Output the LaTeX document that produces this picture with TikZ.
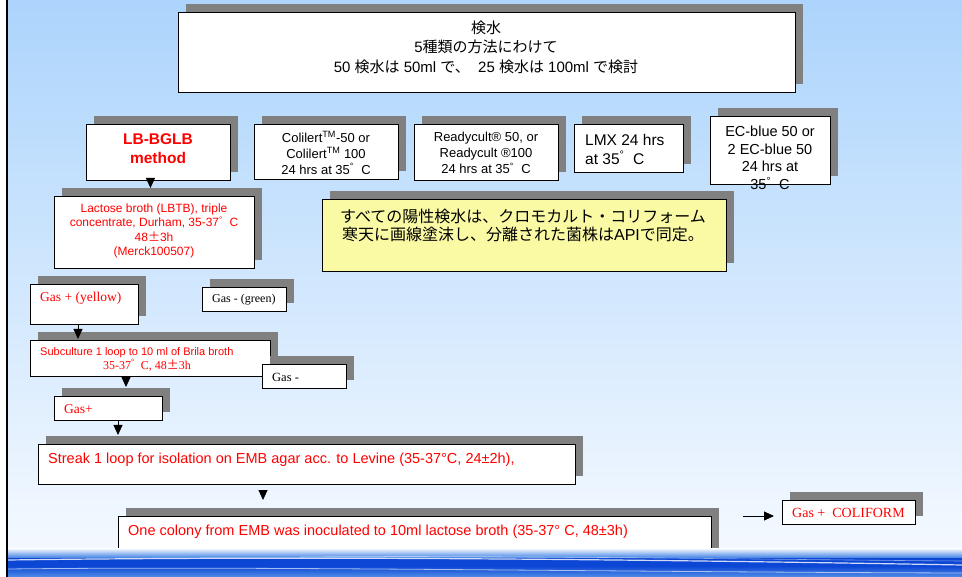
\documentclass[tikz,border=0pt]{standalone}
\usepackage{fontspec}
\setmainfont{Liberation Sans}
\newfontfamily\jp{Noto Sans CJK JP}
\newfontfamily\tnr{Liberation Serif}
\usetikzlibrary{arrows.meta,shadows,calc}

\definecolor{skytop}{RGB}{172,212,252}
\definecolor{skybot}{RGB}{244,249,255}
\definecolor{shadowgray}{RGB}{128,128,128}
\definecolor{notefill}{RGB}{250,250,165}
\definecolor{wavedark}{RGB}{12,70,212}
\definecolor{wavemid}{RGB}{80,140,232}

\newcommand{\ja}[1]{{\jp #1}}
\newcommand{\degc}{\textsuperscript{°}\ \ C}

\tikzset{
  frame/.style={draw=black, fill=white, line width=0.9pt, inner sep=0pt, anchor=north west,
    drop shadow={shadow xshift=8pt, shadow yshift=8pt, fill=shadowgray, opacity=1}},
  txt/.style={inner sep=0pt, align=center},
  flow/.style={line width=0.8pt, -{Triangle[length=10pt,width=9pt]}},
}

\begin{document}
\begin{tikzpicture}[x=1pt, y=-1pt]
    \useasboundingbox (0,0) rectangle (962,577);
    % sky behind the chart
    \fill[white] (0,0) rectangle (962,577);
    \shade[top color=skytop, bottom color=skybot] (8,0) rectangle (962,549);

    % boxes
    \node[frame, minimum width=617pt, minimum height=80pt] (top) at (178,12) {};
    \node[frame, minimum width=144pt, minimum height=56pt] (lbbglb) at (86,124) {};
    \node[frame, minimum width=144pt, minimum height=55pt] (colilert) at (254,124) {};
    \node[frame, minimum width=144pt, minimum height=56pt] (readycult) at (414,124) {};
    \node[frame, minimum width=109pt, minimum height=48pt] (lmx) at (574,124) {};
    \node[frame, minimum width=120pt, minimum height=68pt] (ecblue) at (710,116) {};
    \node[frame, fill=notefill, minimum width=404pt, minimum height=72pt] (chromo) at (322,199) {};
    \node[frame, minimum width=200pt, minimum height=72pt] (lactose) at (54,196) {};
    \node[frame, minimum width=108pt, minimum height=40pt] (gasyellow) at (30,284) {};
    \node[frame, minimum width=84pt, minimum height=24pt] (gasgreen) at (202,287) {};
    \node[frame, minimum width=240pt, minimum height=36pt] (subcult) at (30,340) {};
    \node[frame, minimum width=84pt, minimum height=24pt] (gasneg) at (262,364) {};
    \node[frame, minimum width=108pt, minimum height=24pt] (gaspos) at (54,396) {};
    \node[frame, minimum width=537pt, minimum height=40pt] (streak) at (38,444) {};
    \node[frame, minimum width=593pt, minimum height=50pt] (colony) at (118,516) {};
    \node[frame, minimum width=133pt, minimum height=24pt] (coliform) at (782,500) {};

    % texts
    \node[txt, font=\fontsize{15}{19.5}\selectfont] (top-t) at (486,47)
      {\ja{検水}\\5\ja{種類の方法にわけて}\\50\ \ja{検水は}\ 50ml\ \ja{で、}\ \ 25\ \ja{検水は}\ 100ml\ \ja{で検討}};
    \node[txt, red, font=\bfseries\fontsize{15.5}{19}\selectfont] (lbbglb-t) at (158,149) {LB-BGLB\\method};
    \node[txt, font=\fontsize{13}{16}\selectfont] (colilert-t) at (326,153)
      {Colilert\textsuperscript{TM}-50 or\\Colilert\textsuperscript{TM} 100\\24 hrs at 35\degc};
    \node[txt, font=\fontsize{13}{16}\selectfont] (readycult-t) at (486,153)
      {Readycult® 50, or\\Readycult ®100\\24 hrs at 35\degc};
    \node[txt, align=left, anchor=west, font=\fontsize{15.5}{19}\selectfont] (lmx-t) at (585,149) {LMX 24 hrs\\at 35\degc};
    \node[txt, font=\fontsize{14.5}{17.6}\selectfont] (ecblue-t) at (770,158)
      {EC-blue 50 or\\2 EC-blue 50\\24 hrs at\\35\degc};
    \node[txt, font=\fontsize{16}{18}\selectfont] (chromo-t) at (523,225)
      {\ja{すべての陽性検水は、クロモカルト・コリフォーム}\\\ja{寒天に画線塗沫し、分離された菌株は}API\ja{で同定。}};
    \node[txt, red, font=\fontsize{12}{14.3}\selectfont] (lactose-t) at (154,231)
      {Lactose broth (LBTB), triple\\concentrate, Durham, 35-37\degc\\48\ja{±}3h\\(Merck100507)};
    \node[txt, red, anchor=west, font=\tnr\fontsize{13.5}{16}\selectfont] (gasyellow-t) at (40,298) {Gas + (yellow)};
    \node[txt, anchor=west, font=\tnr\fontsize{12}{14}\selectfont] (gasgreen-t) at (212,300) {Gas - (green)};
    \node[txt, red, align=left, anchor=west, font=\fontsize{11}{14}\selectfont] (subcult-t) at (40,359)
      {Subculture 1 loop to 10 ml of Brila broth\\\hspace*{63pt}{\tnr\fontsize{12}{14}\selectfont 35-37\degc, 48\ja{±}3h}};
    \node[txt, anchor=west, font=\tnr\fontsize{12.5}{14}\selectfont] (gasneg-t) at (272,377) {Gas -};
    \node[txt, red, anchor=west, font=\tnr\fontsize{13.5}{16}\selectfont] (gaspos-t) at (64,409) {Gas+};
    \node[txt, red, anchor=west, font=\fontsize{14.5}{17}\selectfont] (streak-t) at (48,460)
      {Streak 1 loop for isolation on EMB agar acc. to Levine (35-37°C, 24±2h),};
    \node[txt, red, anchor=west, font=\fontsize{14.5}{17}\selectfont] (colony-t) at (128,532)
      {One colony from EMB was inoculated to 10ml lactose broth (35-37° C, 48±3h)};
    \node[txt, red, anchor=west, font=\tnr\fontsize{14}{16}\selectfont] (coliform-t) at (792,513) {Gas +\ \ COLIFORM};

    % arrows
    \coordinate (emb-out) at ($(streak.south west)+(225,6)$);
    \draw[flow] ($(lbbglb.south)+(-8,0)$) -- ($(lactose.north)+(-4,-8)$);
    \draw[flow] ($(gasyellow.south west)+(48,0)$) -- ($(gasyellow.south west |- subcult.north)+(48,-1)$);
    \draw[flow] ($(subcult.south west)+(96,0)$) -- ($(subcult.south west |- gaspos.north)+(96,-9)$);
    \draw[flow] ($(gaspos.south west)+(64,0)$) -- ($(gaspos.south west |- streak.north)+(64,-9)$);
    \draw[flow] (emb-out) -- ($(emb-out |- colony.north)+(0,-16)$);
    \draw[flow] ($(colony.north east)+(31,0)$) -- ($(coliform.west |- colony.north)+(-8,0)$);

    % water band at the foot
    \fill[wavedark] (8,553) rectangle (962,577);
    \shade[top color=white, bottom color=wavemid] (8,548) rectangle (962,557);
    \shade[top color=wavedark, bottom color=wavemid] (8,566) rectangle (962,577);
    \draw[white, opacity=.8, line width=1.2pt] (8,560) .. controls (300,556) and (620,559) .. (962,565);
    \draw[white, opacity=.6, line width=0.8pt] (8,569) .. controls (260,566) and (600,572) .. (962,573);
    \draw[white, opacity=.5, line width=0.6pt] (300,557) .. controls (500,555) and (800,560) .. (962,561);

    \draw[line width=2pt] (7,0) -- (7,577);
\end{tikzpicture}
\end{document}
